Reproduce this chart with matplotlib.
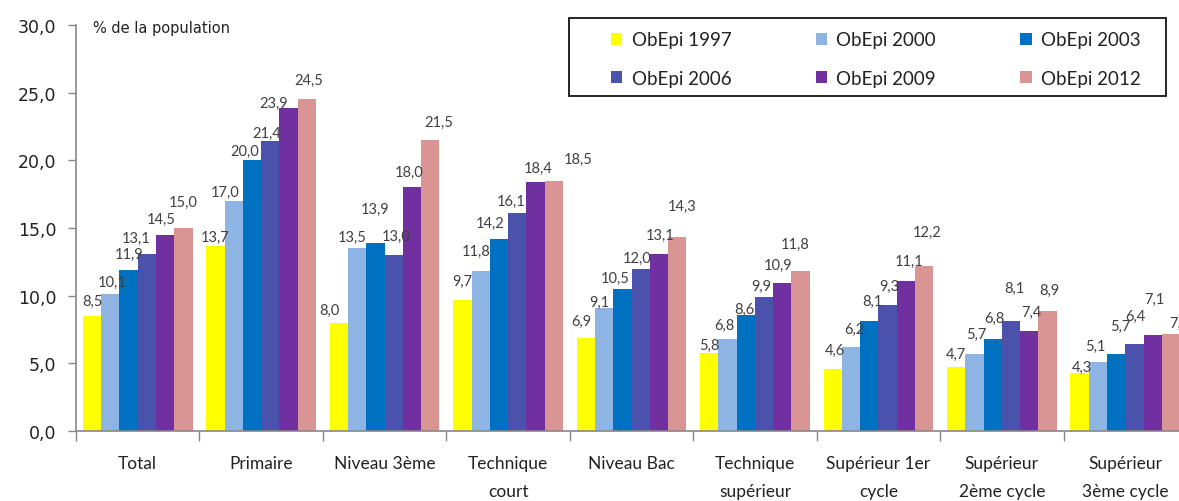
import matplotlib
matplotlib.use("Agg")
import matplotlib.pyplot as plt
import numpy as np
from matplotlib.ticker import FixedLocator, FuncFormatter
from matplotlib.patches import Rectangle

categories = ["Total", "Primaire", "Niveau 3ème", "Technique\ncourt", "Niveau Bac",
              "Technique\nsupérieur", "Supérieur 1er\ncycle", "Supérieur\n2ème cycle",
              "Supérieur\n3ème cycle"]
series_names = ["ObEpi 1997", "ObEpi 2000", "ObEpi 2003", "ObEpi 2006", "ObEpi 2009", "ObEpi 2012"]

obepi_1997 = [8.5, 13.7, 8.0, 9.7, 6.9, 5.8, 4.6, 4.7, 4.3]
obepi_2000 = [10.1, 17.0, 13.5, 11.8, 9.1, 6.8, 6.2, 5.7, 5.1]
obepi_2003 = [11.9, 20.0, 13.9, 14.2, 10.5, 8.6, 8.1, 6.8, 5.7]
obepi_2006 = [13.1, 21.4, 13.0, 16.1, 12.0, 9.9, 9.3, 8.1, 6.4]
obepi_2009 = [14.5, 23.9, 18.0, 18.4, 13.1, 10.9, 11.1, 7.4, 7.1]
obepi_2012 = [15.0, 24.5, 21.5, 18.5, 14.3, 11.8, 12.2, 8.9, 7.2]
series_values = [obepi_1997, obepi_2000, obepi_2003, obepi_2006, obepi_2009, obepi_2012]

yticks = [0, 5, 10, 15, 20, 25, 30]

# styling
colors = ["#FFFF00", "#8DB4E2", "#0070C0", "#4B52AB", "#7030A0", "#D99594"]
# label nudges (pixels) mimicking the original label placement
label_dx = [[0, 0, -10, 0, -5, 0, 2, 0, 2],
            [2, -9, -5, -5, -5, -3, 3, 2, -3],
            [0, -7, 0, -9, -7, -1, 3, 2, 4],
            [-11, -4, 2, -6, -4, -3, 2, 3, 1],
            [-4, -15, -3, 3, 1, -4, 3, 2, 2],
            [0, 2, 8, 24, 5, -5, 3, 2, 8]]
label_dy = [[15, 9, 13, 19, 17, 8, 19, 14, 6],
            [12, 9, 11, 20, 6, 14, 18, 20, 16],
            [16, 9, 34, 16, 11, 6, 20, 21, 28],
            [16, 8, 19, 12, 11, 11, 19, 33, 28],
            [16, 5, 16, 14, 19, 19, 20, 19, 36],
            [26, 20, 18, 22, 32, 27, 34, 21, 11]]

W, H = 1179, 502
fig = plt.figure(figsize=(W / 100, H / 100), dpi=100)
ax = fig.add_axes([76 / W, 1 - 432 / H, 1111 / W, 406 / H])

n = len(series_values)
bw = 0.148
x = np.arange(len(categories)) + 0.5
handles = []
for k, (vals, col, name) in enumerate(zip(series_values, colors, series_names)):
    pos = x + (k - (n - 1) / 2) * bw
    b = ax.bar(pos, vals, width=bw, color=col, label=name, linewidth=0, zorder=2)
    handles.append(b)
    for j, v in enumerate(vals):
        ax.annotate(f"{v:.1f}".replace(".", ","), (pos[j], v),
                    xytext=(label_dx[k][j], label_dy[k][j]), textcoords="offset pixels",
                    ha="center", va="center", fontsize=10.5, color="#404040",
                    family="Lato", annotation_clip=False)

ax.set_xlim(0, len(categories))
ax.set_ylim(0, 30)
ax.set_yticks(yticks)
ax.yaxis.set_major_formatter(FuncFormatter(lambda v, p: f"{v:.1f}".replace(".", ",")))
ax.tick_params(axis="y", labelsize=12.5, colors="#888888", labelcolor="#222222",
               length=6, width=1, direction="out", pad=8)

ax.set_xticks(x)
ax.set_xticklabels(categories, family="Lato", fontsize=12.5, color="#222222", linespacing=1.95)
ax.tick_params(axis="x", length=0, pad=17)
ax.xaxis.set_minor_locator(FixedLocator(np.arange(0, len(categories) + 1)))
ax.tick_params(axis="x", which="minor", length=7, width=1, color="#888888", direction="out")

for s in ["top", "right"]:
    ax.spines[s].set_visible(False)
for s in ["left", "bottom"]:
    ax.spines[s].set_color("#888888")
    ax.spines[s].set_linewidth(1.2)

fig.text(93 / W, 1 - 28 / H, "% de la population", fontsize=10.5, color="#222222",
         ha="left", va="center")

# legend: row-major order like the original (matplotlib fills column-major)
order = [0, 3, 1, 4, 2, 5]
leg = fig.legend([handles[i] for i in order], [series_names[i] for i in order],
                 loc="center left", ncol=3, bbox_to_anchor=(611 / W, 1 - 60 / H),
                 frameon=False, borderpad=0, borderaxespad=0,
                 prop={"family": "Lato", "size": 13.5}, handlelength=0.6, handleheight=0.6,
                 handletextpad=0.5, labelspacing=1.15, columnspacing=4.5)
for t in leg.get_texts():
    t.set_color("#222222")
fig.patches.append(Rectangle((569 / W, 1 - 97 / H), 597 / W, 78 / H, transform=fig.transFigure,
                             fill=False, edgecolor="black", linewidth=1.2))

fig.savefig("out.png", dpi=100)
